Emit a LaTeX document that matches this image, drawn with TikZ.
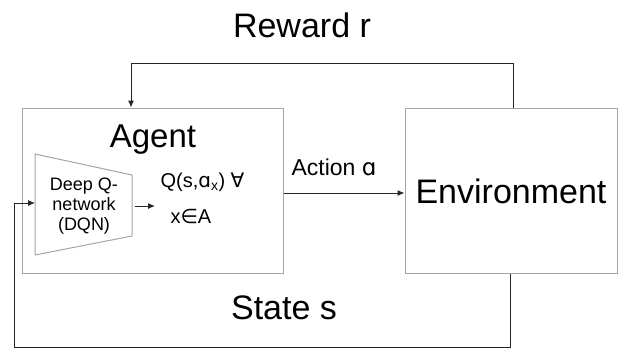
\documentclass[tikz,border=0pt]{standalone}
\usepackage{fontspec}
\setmainfont{Liberation Sans}
\newfontfamily\symbolfont{DejaVu Sans}
\usepackage{tikz}
\definecolor{boxgray}{RGB}{165, 165, 165}
\colorlet{framecolor}{boxgray}
\colorlet{linkcolor}{black!85}
\usetikzlibrary{
  arrows.meta,
  calc,
  positioning,
}
\tikzset{
  >={Latex[length=7pt,width=6pt]},
  block/.style={draw=framecolor, line width=1pt, minimum height=165pt, inner sep=0pt},
  link/.style={draw=linkcolor, line width=1pt},
  bigtext/.style={font=\fontsize{34}{38}\selectfont, anchor=base},
}

\begin{document}
\begin{tikzpicture}[x=1pt, y=-1pt]
  \useasboundingbox (0,0) rectangle (625,349);
  \node [block, minimum width=261pt] at (152.5,190.5) (agent) {};
  \node [block, minimum width=212pt] at (511,190.5) (env) {};
  \node [bigtext, font=\fontsize{33}{36}\selectfont] at (153,147) (agenttitle) {Agent};
  \node [bigtext] at (511,203) (envtitle) {Environment};
  \node [bigtext] at (302,37) (reward) {Reward r};
  \node [bigtext] at (284,319) (state) {State s};
  \node [anchor=base, font=\fontsize{23}{26}\selectfont] at (334,175)
        (action) {Action {\symbolfont ɑ}};
  % Q-network inside the agent
  \draw [framecolor, line width=1pt] (35,154) -- (132,175) -- (132,236) -- (35,255) -- cycle;
  \coordinate (dqnin) at (35,203);
  \coordinate (dqnout) at (132,206);
  \coordinate (qin) at (155,206);
  \node [align=center, font=\fontsize{18}{20}\selectfont] at (84,206)
        (dqn) {Deep Q-\\network\\(DQN)};
  \node [anchor=base west, font=\fontsize{20}{22}\selectfont] at (157,187)
        (qvalue) {Q(s,{\symbolfont ɑ}\textsubscript{x}) {\symbolfont ∀}};
  \node [anchor=base west, font=\fontsize{20}{22}\selectfont] at (167,223)
        (qrange) {x{\symbolfont ∈}A};
  \draw [link, ->] ($(dqnout)+(3,0)$) -- (qin);
  % loop between agent and environment
  \draw [link, ->] ([yshift=-2.5pt]agent.east) -- ([yshift=-2.5pt]env.west);
  \draw [link, ->] ([xshift=2pt]env.north) -- ++(0,-44) -| ([xshift=-21.5pt]agent.north);
  \draw [link, ->] ([xshift=-1pt]env.south) -- ++(0,74) -| ($(dqnin)+(-21,0)$) -- (dqnin);
\end{tikzpicture}
\end{document}
